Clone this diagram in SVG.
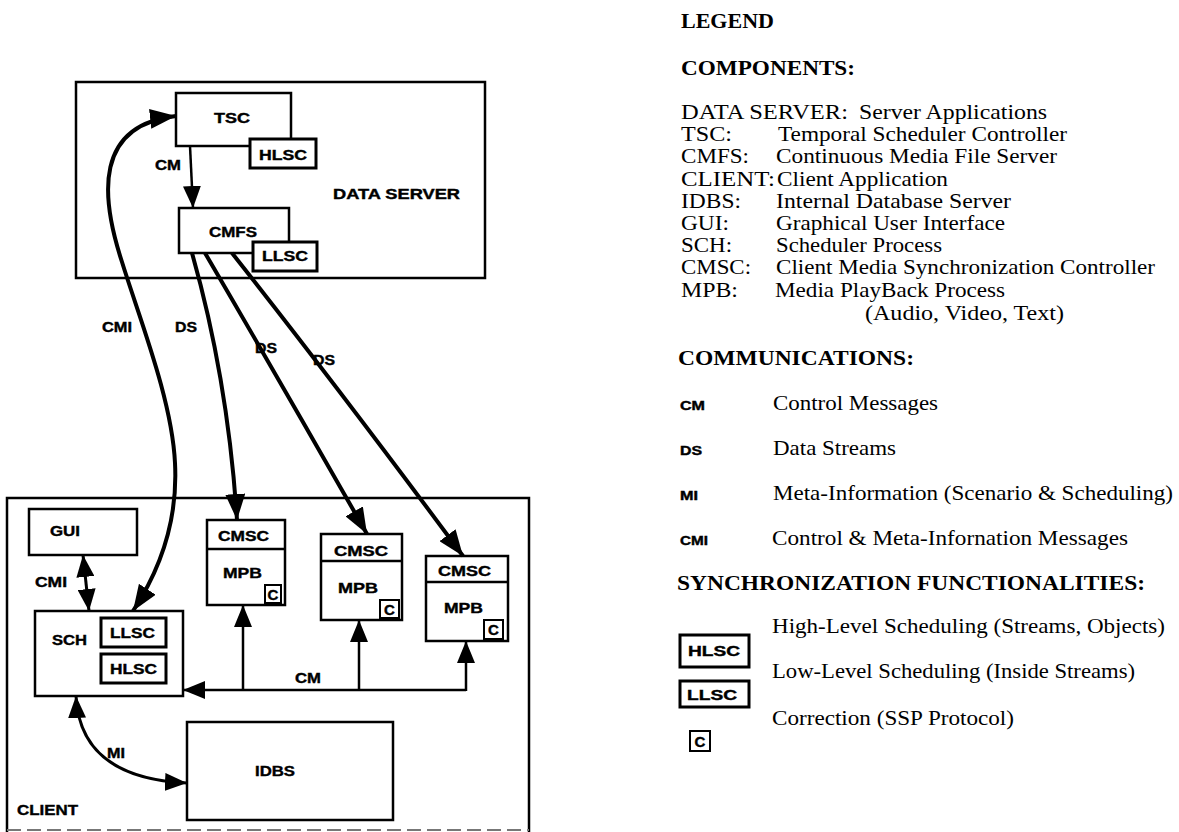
<svg xmlns="http://www.w3.org/2000/svg" width="1179" height="832" viewBox="0 0 1179 832">
<style>
.bx{fill:#fff;stroke:#000;stroke-width:2.5}
.sb{fill:#fff;stroke:#000;stroke-width:3}
.cb{fill:#fff;stroke:#000;stroke-width:2}
.ct{fill:none;stroke:#000;stroke-width:2.5}
.l{font-family:"Liberation Sans",Arial,sans-serif;font-weight:bold;font-size:15px;fill:#000;stroke:#000;stroke-width:0.4}
.lg{font-family:"Liberation Serif","Times New Roman",serif;font-size:21px;fill:#000}
.lh{font-family:"Liberation Serif","Times New Roman",serif;font-size:22px;font-weight:bold;fill:#000}
.ab{font-family:"Liberation Sans",Arial,sans-serif;font-weight:bold;font-size:12px;fill:#000;stroke:#000;stroke-width:0.4}
.thick{fill:none;stroke:#000;stroke-width:4}
.med{fill:none;stroke:#000;stroke-width:3}
.thin{fill:none;stroke:#000;stroke-width:2.5}
</style>
<defs>
<marker id="big" markerUnits="userSpaceOnUse" viewBox="0 0 26 20" markerWidth="26" markerHeight="20" refX="26" refY="10" orient="auto-start-reverse"><path d="M0,0 L26,10 L0,20 z" fill="#000"/></marker>
<marker id="mid" markerUnits="userSpaceOnUse" viewBox="0 0 22 18" markerWidth="22" markerHeight="18" refX="22" refY="9" orient="auto-start-reverse"><path d="M0,0 L22,9 L0,18 z" fill="#000"/></marker>
</defs>

<g id="data-server">
<rect class="bx" x="76" y="82" width="409" height="196"/>
<text class="l" x="333" y="199" textLength="127" lengthAdjust="spacingAndGlyphs">DATA SERVER</text>
</g>
<g id="tsc">
<rect class="bx" x="176" y="93" width="115" height="53"/>
<text class="l" x="214" y="123" textLength="36" lengthAdjust="spacingAndGlyphs">TSC</text>
<rect class="sb" x="250" y="139" width="66" height="29"/>
<text class="l" x="259" y="160" textLength="48" lengthAdjust="spacingAndGlyphs">HLSC</text>
</g>
<g id="cmfs">
<rect class="bx" x="179" y="208" width="110" height="45"/>
<text class="l" x="209" y="237" textLength="48" lengthAdjust="spacingAndGlyphs">CMFS</text>
<rect class="sb" x="253" y="242" width="64" height="29"/>
<text class="l" x="262" y="261" textLength="46" lengthAdjust="spacingAndGlyphs">LLSC</text>
</g>

<g id="client">
<path class="ct" d="M7,832 L7,498 L529,498 L529,832"/>
<line x1="7" y1="830" x2="529" y2="830" stroke="#777" stroke-width="2" stroke-dasharray="14,6"/>
<text class="l" x="17" y="815" textLength="61" lengthAdjust="spacingAndGlyphs">CLIENT</text>
</g>
<g id="gui">
<rect class="bx" x="29" y="509" width="108" height="46"/>
<text class="l" x="50" y="536" textLength="30" lengthAdjust="spacingAndGlyphs">GUI</text>
</g>
<g id="sch">
<rect class="bx" x="35" y="611" width="148" height="85"/>
<text class="l" x="52" y="645" textLength="35" lengthAdjust="spacingAndGlyphs">SCH</text>
<rect class="sb" x="101" y="618" width="65" height="29"/>
<text class="l" x="110" y="638" textLength="45" lengthAdjust="spacingAndGlyphs">LLSC</text>
<rect class="sb" x="101" y="654" width="65" height="29"/>
<text class="l" x="110" y="674" textLength="47" lengthAdjust="spacingAndGlyphs">HLSC</text>
</g>
<g id="mpb1">
<rect class="bx" x="207" y="520" width="78" height="85"/>
<line class="thin" x1="207" y1="549" x2="285" y2="549"/>
<text class="l" x="218" y="541" textLength="51" lengthAdjust="spacingAndGlyphs">CMSC</text>
<text class="l" x="223" y="578" textLength="39" lengthAdjust="spacingAndGlyphs">MPB</text>
<rect class="cb" x="265" y="585" width="16" height="18"/>
<text class="l" x="273" y="600" text-anchor="middle">C</text>
</g>
<g id="mpb2">
<rect class="bx" x="321" y="534" width="81" height="86"/>
<line class="thin" x1="321" y1="561" x2="402" y2="561"/>
<text class="l" x="334" y="556" textLength="54" lengthAdjust="spacingAndGlyphs">CMSC</text>
<text class="l" x="338" y="593" textLength="40" lengthAdjust="spacingAndGlyphs">MPB</text>
<rect class="cb" x="380" y="600" width="19" height="18"/>
<text class="l" x="389.5" y="615" text-anchor="middle">C</text>
</g>
<g id="mpb3">
<rect class="bx" x="426" y="556" width="82" height="85"/>
<line class="thin" x1="426" y1="582" x2="508" y2="582"/>
<text class="l" x="438" y="576" textLength="53" lengthAdjust="spacingAndGlyphs">CMSC</text>
<text class="l" x="444" y="613" textLength="39" lengthAdjust="spacingAndGlyphs">MPB</text>
<rect class="cb" x="484" y="620" width="19" height="19"/>
<text class="l" x="493.5" y="635" text-anchor="middle">C</text>
</g>
<g id="idbs">
<rect class="bx" x="187" y="722" width="206" height="98"/>
<text class="l" x="255" y="776" textLength="40" lengthAdjust="spacingAndGlyphs">IDBS</text>
</g>

<g id="connectors">
<path class="thin" d="M190,146 L193,208" marker-end="url(#mid)"/>
<text class="l" x="155" y="170" textLength="26" lengthAdjust="spacingAndGlyphs">CM</text>
<path class="thick" d="M133,611 C160,570 178,520 175,463 C172,400 140,320 122,262 C100,195 95,125 176,116" marker-start="url(#big)" marker-end="url(#big)"/>
<text class="l" x="102" y="332" textLength="30" lengthAdjust="spacingAndGlyphs">CMI</text>
<path class="thick" d="M192,253 Q228,380 237,520" marker-end="url(#big)"/>
<path class="thick" d="M205,253 Q288,395 367,534" marker-end="url(#big)"/>
<path class="thick" d="M232,253 Q340,390 463,556" marker-end="url(#big)"/>
<text class="l" x="175" y="332" textLength="22" lengthAdjust="spacingAndGlyphs">DS</text>
<text class="l" x="255" y="353" textLength="22" lengthAdjust="spacingAndGlyphs">DS</text>
<text class="l" x="313" y="365" textLength="22" lengthAdjust="spacingAndGlyphs">DS</text>
<path class="med" d="M83,555 L89,611" marker-start="url(#mid)" marker-end="url(#mid)"/>
<text class="l" x="35" y="587" textLength="32" lengthAdjust="spacingAndGlyphs">CMI</text>
<path class="thin" d="M466,690 L183,690" marker-end="url(#mid)"/>
<path class="thin" d="M243,690 L243,605" marker-end="url(#mid)"/>
<path class="thin" d="M359,690 L359,620" marker-end="url(#mid)"/>
<path class="thin" d="M466,691 L466,641" marker-end="url(#mid)"/>
<text class="l" x="295" y="683" textLength="26" lengthAdjust="spacingAndGlyphs">CM</text>
<path class="med" d="M76,696 Q80,778 187,783" marker-start="url(#mid)" marker-end="url(#mid)"/>
<text class="l" x="107" y="758" textLength="18" lengthAdjust="spacingAndGlyphs">MI</text>
</g>

<g id="legend">
<text class="lh" x="681" y="28" font-size="25">LEGEND</text>
<text class="lh" x="681" y="75" textLength="174" lengthAdjust="spacingAndGlyphs">COMPONENTS:</text>
<text class="lg" x="681" y="119" textLength="167" lengthAdjust="spacingAndGlyphs">DATA SERVER:</text><text class="lg" x="859" y="119" textLength="188" lengthAdjust="spacingAndGlyphs">Server Applications</text>
<text class="lg" x="681" y="141" textLength="51" lengthAdjust="spacingAndGlyphs">TSC:</text><text class="lg" x="778" y="141" textLength="289" lengthAdjust="spacingAndGlyphs">Temporal Scheduler Controller</text>
<text class="lg" x="681" y="163" textLength="68" lengthAdjust="spacingAndGlyphs">CMFS:</text><text class="lg" x="776" y="163" textLength="281" lengthAdjust="spacingAndGlyphs">Continuous Media File Server</text>
<text class="lg" x="681" y="186" textLength="94" lengthAdjust="spacingAndGlyphs">CLIENT:</text><text class="lg" x="777" y="186" textLength="171" lengthAdjust="spacingAndGlyphs">Client Application</text>
<text class="lg" x="681" y="208" textLength="60" lengthAdjust="spacingAndGlyphs">IDBS:</text><text class="lg" x="776" y="208" textLength="235" lengthAdjust="spacingAndGlyphs">Internal Database  Server</text>
<text class="lg" x="681" y="230" textLength="48" lengthAdjust="spacingAndGlyphs">GUI:</text><text class="lg" x="776" y="230" textLength="229" lengthAdjust="spacingAndGlyphs">Graphical User Interface</text>
<text class="lg" x="681" y="252" textLength="51" lengthAdjust="spacingAndGlyphs">SCH:</text><text class="lg" x="776" y="252" textLength="166" lengthAdjust="spacingAndGlyphs">Scheduler Process</text>
<text class="lg" x="681" y="274" textLength="70" lengthAdjust="spacingAndGlyphs">CMSC:</text><text class="lg" x="776" y="274" textLength="379" lengthAdjust="spacingAndGlyphs">Client Media Synchronization Controller</text>
<text class="lg" x="681" y="297" textLength="57" lengthAdjust="spacingAndGlyphs">MPB:</text><text class="lg" x="775" y="297" textLength="230" lengthAdjust="spacingAndGlyphs">Media PlayBack Process</text>
<text class="lg" x="865" y="320" textLength="199" lengthAdjust="spacingAndGlyphs">(Audio, Video, Text)</text>
<text class="lh" x="678" y="365" textLength="236" lengthAdjust="spacingAndGlyphs">COMMUNICATIONS:</text>
<text class="ab" x="680" y="410" textLength="25" lengthAdjust="spacingAndGlyphs">CM</text><text class="lg" x="773" y="410" textLength="165" lengthAdjust="spacingAndGlyphs">Control Messages</text>
<text class="ab" x="680" y="455" textLength="22" lengthAdjust="spacingAndGlyphs">DS</text><text class="lg" x="773" y="455" textLength="123" lengthAdjust="spacingAndGlyphs">Data Streams</text>
<text class="ab" x="680" y="500" textLength="18" lengthAdjust="spacingAndGlyphs">MI</text><text class="lg" x="773" y="500" textLength="400" lengthAdjust="spacingAndGlyphs">Meta-Information (Scenario &amp; Scheduling)</text>
<text class="ab" x="680" y="545" textLength="28" lengthAdjust="spacingAndGlyphs">CMI</text><text class="lg" x="772" y="545" textLength="356" lengthAdjust="spacingAndGlyphs">Control &amp; Meta-Infornation Messages</text>
<text class="lh" x="677" y="590" textLength="468" lengthAdjust="spacingAndGlyphs">SYNCHRONIZATION FUNCTIONALITIES:</text>
<rect class="sb" x="680" y="635" width="69" height="32"/>
<text class="l" x="688" y="656" textLength="52" lengthAdjust="spacingAndGlyphs">HLSC</text>
<text class="lg" x="772" y="633" textLength="393" lengthAdjust="spacingAndGlyphs">High-Level Scheduling (Streams, Objects)</text>
<rect class="sb" x="680" y="681" width="69" height="26"/>
<text class="l" x="687" y="700" textLength="50" lengthAdjust="spacingAndGlyphs">LLSC</text>
<text class="lg" x="772" y="678" textLength="363" lengthAdjust="spacingAndGlyphs">Low-Level Scheduling (Inside Streams)</text>
<rect class="cb" x="690" y="731" width="20" height="20"/>
<text class="l" x="700" y="747" text-anchor="middle">C</text>
<text class="lg" x="772" y="725" textLength="242" lengthAdjust="spacingAndGlyphs">Correction (SSP Protocol)</text>
</g>
</svg>
